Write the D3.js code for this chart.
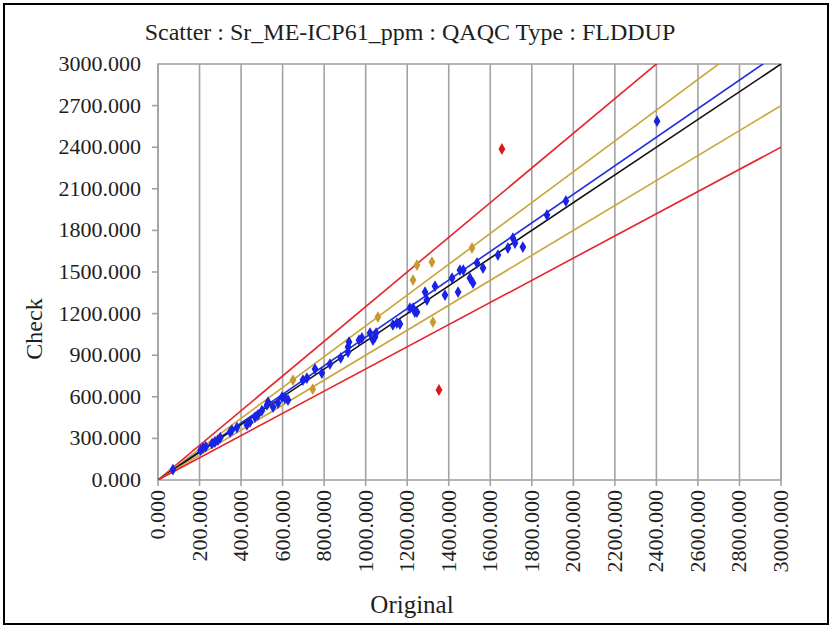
<!DOCTYPE html>
<html><head><meta charset="utf-8">
<script src="https://cdn.jsdelivr.net/npm/d3@7"></script>
<style>body{margin:0;background:#fff}svg{display:block}text{font-family:"Liberation Serif","Times New Roman",serif}</style>
</head><body>
<script>
const title = "Scatter : Sr_ME-ICP61_ppm : QAQC Type : FLDDUP";
const xLabel = "Original", yLabel = "Check";
const xTicks = [0,200,400,600,800,1000,1200,1400,1600,1800,2000,2200,2400,2600,2800,3000];
const yTicks = [0,300,600,900,1200,1500,1800,2100,2400,2700,3000];
// points within ±10%
const blueOriginal = [72,205,217,230,260,274,289,300,347,356,380,428,443,467,481,500,525,530,554,578,597,611,626,698,717,756,789,828,880,915,915,920,968,982,1021,1035,1045,1050,1131,1150,1165,1213,1228,1237,1247,1286,1295,1334,1382,1416,1445,1454,1470,1502,1517,1536,1565,1637,1685,1709,1719,1757,1873,1964,2403];
const blueCheck    = [75,215,231,240,262,274,288,305,346,360,378,397,418,454,469,500,541,562,526,555,598,591,577,721,735,800,771,836,880,923,959,995,1009,1024,1060,1009,1031,1060,1118,1132,1125,1240,1240,1211,1211,1355,1298,1398,1334,1456,1355,1514,1514,1456,1420,1565,1528,1622,1673,1745,1709,1680,1911,2012,2588];
// points between 10% and 20%
const goldOriginal = [650,745,1059,1228,1247,1319,1512,1324];
const goldCheck    = [721,655,1175,1442,1550,1572,1673,1139];
// points beyond 20%
const redOriginal = [1656,1353];
const redCheck    = [2387,649];
// reference lines: slope of check vs original
const lineSlopes = [1.25, 1/0.9, 1.03, 1.0, 0.9, 0.8];
const lineColors = ["#e5232b","#c9a437","#1f2ee0","#111111","#c9a437","#e5232b"];

const W=832,H=629;
const svg=d3.select("body").append("svg").attr("width",W).attr("height",H);
svg.append("rect").attr("width",W).attr("height",H).attr("fill","#fff");
svg.append("rect").attr("x",4).attr("y",4).attr("width",824).attr("height",620).attr("fill","none").attr("stroke","#000").attr("stroke-width",2);

const x=d3.scaleLinear([0,3000],[158,781]);
const y=d3.scaleLinear([0,3000],[480,64]);
const grid="#a3a3a3";
const ink="#1e1e1e";

svg.append("text").attr("x",410).attr("y",40).attr("text-anchor","middle").attr("font-size",24).attr("fill",ink).text(title);

// vertical gridlines
svg.append("g").selectAll("line").data(xTicks).join("line")
  .attr("x1",d=>x(d)).attr("x2",d=>x(d)).attr("y1",y(3000)).attr("y2",486)
  .attr("stroke",grid).attr("stroke-width",1.6);
// frame
svg.append("rect").attr("x",x(0)).attr("y",y(3000)).attr("width",x(3000)-x(0)).attr("height",y(0)-y(3000))
  .attr("fill","none").attr("stroke",grid).attr("stroke-width",1.6);
// y ticks
svg.append("g").selectAll("line").data(yTicks.slice(1,-1)).join("line")
  .attr("x1",x(0)-6).attr("x2",x(0)).attr("y1",d=>y(d)).attr("y2",d=>y(d)).attr("stroke",grid).attr("stroke-width",1.6);
svg.append("g").selectAll("text").data(yTicks).join("text")
  .attr("x",x(0)-17).attr("y",d=>y(d)+7).attr("text-anchor","end").attr("font-size",22).attr("fill",ink)
  .text(d=>d3.format(".3f")(d));
svg.append("g").selectAll("text").data(xTicks).join("text")
  .attr("transform",d=>`translate(${x(d)+7},490) rotate(-90)`).attr("text-anchor","end").attr("font-size",22).attr("fill",ink)
  .text(d=>d3.format(".3f")(d));
svg.append("text").attr("x",412).attr("y",613).attr("text-anchor","middle").attr("font-size",25).attr("fill",ink).text(xLabel);
svg.append("text").attr("transform","translate(42,329) rotate(-90)").attr("text-anchor","middle").attr("font-size",24).attr("fill",ink).text(yLabel);

// clip
svg.append("clipPath").attr("id","c").append("rect").attr("x",x(0)).attr("y",y(3000)).attr("width",x(3000)-x(0)).attr("height",y(0)-y(3000));
const lg=svg.append("g").attr("clip-path","url(#c)");
lg.selectAll("line").data(lineSlopes).join("line")
  .attr("x1",x(0)).attr("y1",y(0)).attr("x2",x(3000)).attr("y2",d=>y(3000*d))
  .attr("stroke",(d,i)=>lineColors[i]).attr("stroke-width",1.6);

const sym=d3.symbol().type(d3.symbolDiamond).size(40);
function pts(xs,ys,col){
  svg.append("g").selectAll("path").data(xs.map((v,i)=>[v,ys[i]])).join("path")
    .attr("transform",d=>`translate(${x(d[0])},${y(d[1])})`).attr("d",sym).attr("fill",col);
}
pts(goldOriginal,goldCheck,"#c9992e");
pts(redOriginal,redCheck,"#e01515");
pts(blueOriginal,blueCheck,"#1a22e6");
</script>
</body></html>
